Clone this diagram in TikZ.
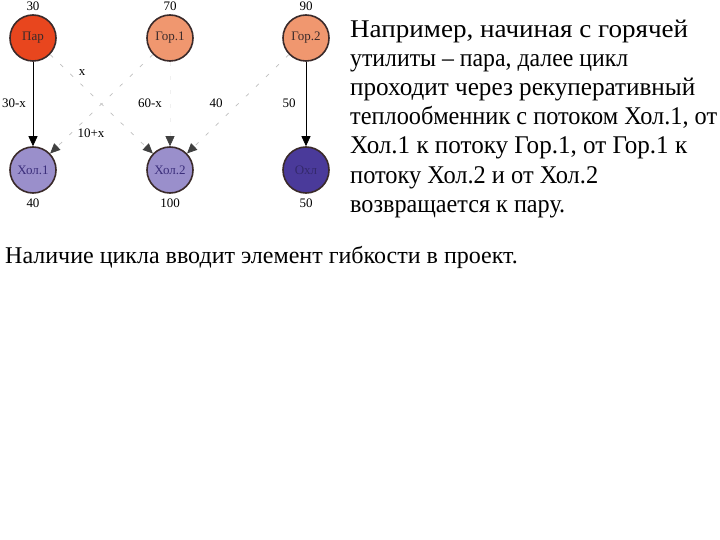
\documentclass[tikz,border=0pt]{standalone}
\usepackage{fontspec}
\usepackage{graphicx}
\setmainfont{Liberation Serif}
\usetikzlibrary{arrows.meta}
\definecolor{parc}{HTML}{E8461E}
\definecolor{gorc}{HTML}{F0976F}
\definecolor{holc}{HTML}{9A8FCB}
\definecolor{ohlc}{HTML}{4A3A9A}
\definecolor{rimc}{HTML}{3A2A2A}
\newcommand{\fitline}[2]{\resizebox{#1}{\height}{#2}}
\tikzset{
  stream/.style={circle, draw=rimc, line width=1.6pt, minimum size=46pt, inner sep=0pt, font=\fontsize{13}{14}\selectfont},
  lbl/.style={font=\fontsize{13}{14}\selectfont, inner sep=1pt},
  txt/.style={font=\fontsize{25.5}{29}\selectfont, anchor=base west, inner sep=0pt},
  txtb/.style={font=\fontsize{24}{26}\selectfont, anchor=base west, inner sep=0pt},
  solidarr/.style={draw=black, line width=0.8pt, -{Triangle[length=10pt,width=9pt]}},
  dasharr/.style={draw=black!25, line width=0.7pt, dash pattern=on 4pt off 10pt, -{Triangle[length=10pt,width=9pt,color=black!75]}}
}
\begin{document}
\begin{tikzpicture}[x=1pt,y=-1pt]
\useasboundingbox (0,0) rectangle (720,540);
% streams
\node[stream, fill=parc, text=rimc] (par) at (33,38) {Пар};
\node[stream, fill=gorc, text=rimc] (gor1) at (170,38) {Гор.1};
\node[stream, fill=gorc, text=rimc] (gor2) at (306,38) {Гор.2};
\node[stream, fill=holc, text=ohlc!80!black] (hol1) at (33,170) {Хол.1};
\node[stream, fill=holc, text=ohlc!80!black] (hol2) at (170,170) {Хол.2};
\node[stream, fill=ohlc, text=ohlc!70!black] (ohl) at (306,170) {Охл};
% temperatures
\node[lbl] (tp) at (33,6) {30};
\node[lbl] (tg1) at (170,6) {70};
\node[lbl] (tg2) at (306,6) {90};
\node[lbl] (th1) at (33,203) {40};
\node[lbl] (th2) at (170,203) {100};
\node[lbl] (to) at (306,203) {50};
% connectors
\draw[solidarr] (par) -- (hol1);
\draw[solidarr] (gor2) -- (ohl);
\draw[dasharr] (par) -- (hol2);
\draw[dasharr] (gor1) -- (hol1);
\draw[dasharr, draw=black!6] (gor1) -- (hol2);
\draw[dasharr] (gor2) -- (hol2);
% loads
\node[lbl, fill=white] (l1) at (14,103) {30-x};
\node[lbl, fill=white] (l2) at (82,73) {x};
\node[lbl, fill=white] (l3) at (91,133) {10+x};
\node[lbl, fill=white] (l4) at (150,103) {60-x};
\node[lbl, fill=white] (l5) at (216,103) {40};
\node[lbl, fill=white] (l6) at (289,103) {50};
% text
\node[txt] (a1) at (350,38) {\fitline{338pt}{Например, начиная с горячей}};
\node[txt] (a2) at (350,67) {\fitline{278pt}{утилиты – пара, далее цикл}};
\node[txt] (a3) at (350,96) {\fitline{345pt}{проходит через рекуперативный}};
\node[txt] (a4) at (350,125) {\fitline{367pt}{теплообменник с потоком Хол.1, от}};
\node[txt] (a5) at (350,154) {\fitline{337pt}{Хол.1 к потоку Гор.1, от Гор.1 к}};
\node[txt] (a6) at (350,183) {\fitline{248pt}{потоку Хол.2 и от Хол.2}};
\node[txt] (a7) at (350,212) {\fitline{215pt}{возвращается к пару.}};
\node[txtb] (b1) at (5,263) {Наличие цикла вводит элемент гибкости в проект.};
\end{tikzpicture}
\end{document}
